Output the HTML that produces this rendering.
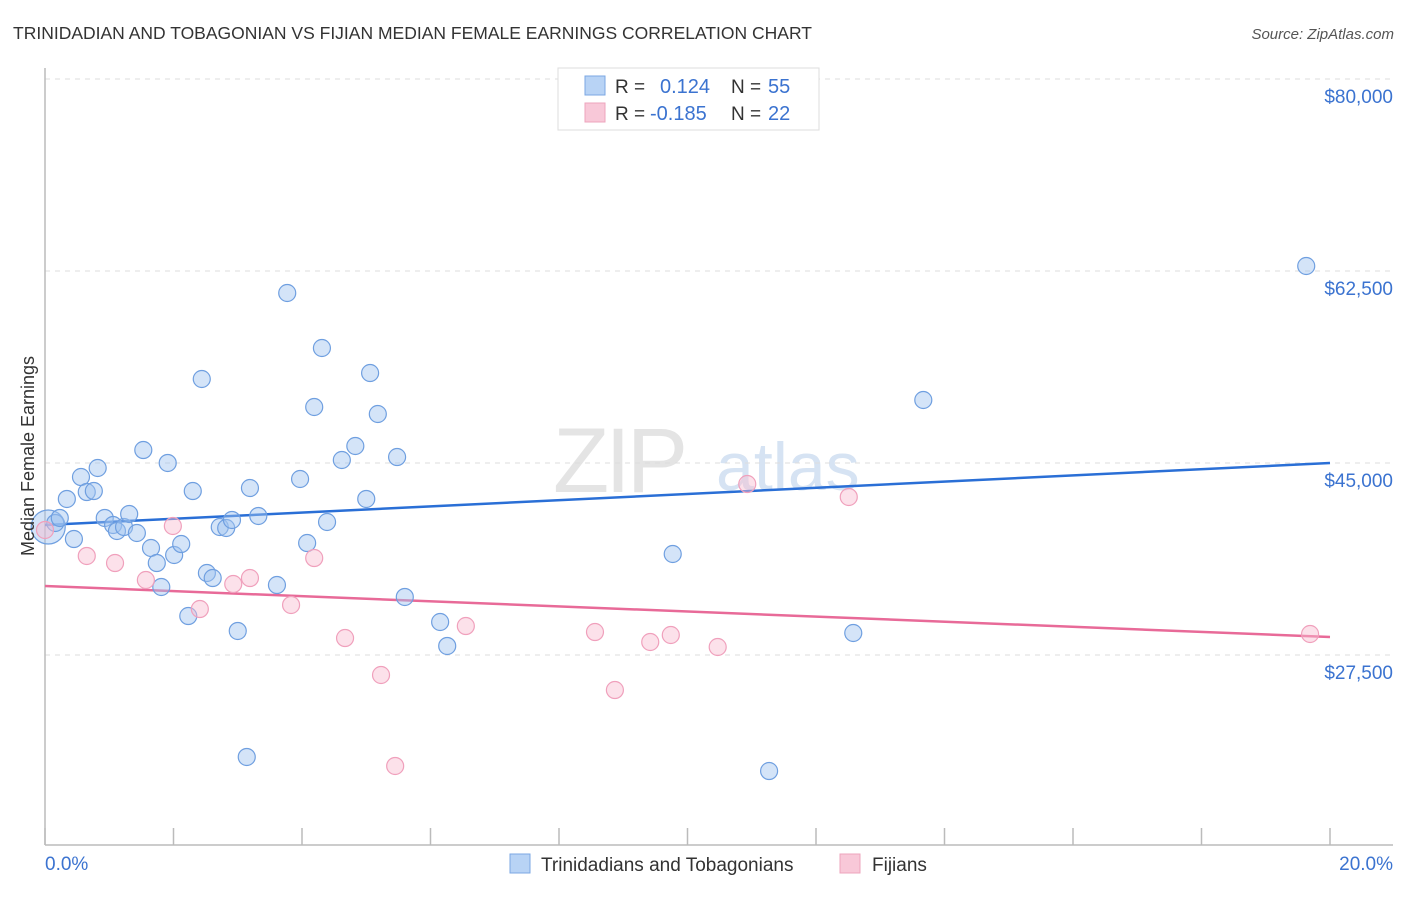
<!DOCTYPE html>
<html><head><meta charset="utf-8"><style>
body{margin:0;background:#fff;font-family:"Liberation Sans",sans-serif;}
svg text{font-family:"Liberation Sans",sans-serif;}
</style></head><body>
<svg id="chart" width="1406" height="892" xmlns="http://www.w3.org/2000/svg">
<text x="13" y="39" font-size="17.5" fill="#333">TRINIDADIAN AND TOBAGONIAN VS FIJIAN MEDIAN FEMALE EARNINGS CORRELATION CHART</text>
<text x="1394" y="39" font-size="15" fill="#555" text-anchor="end" font-style="italic">Source: ZipAtlas.com</text>
<g>
<text x="553" y="492" font-size="92" fill="#e4e4e4" font-family="Liberation Serif" letter-spacing="-4">ZIP</text>
<text x="716" y="490" font-size="68" fill="#d6e3f3">atlas</text>
</g>
<g id="grid"></g>
<g id="axes"></g>
<g id="lines"></g>
<g id="points"></g>
<text transform="translate(34,456) rotate(-90)" font-size="18" fill="#333" text-anchor="middle">Median Female Earnings</text>
<g>
<rect x="558" y="68" width="261" height="62" fill="#fff" stroke="#ddd"/>
<rect x="585" y="76" width="20" height="19" fill="#b8d3f5" stroke="#7ba7e3"/>
<rect x="585" y="103" width="20" height="19" fill="#f8c8d8" stroke="#eea4bd"/>
<text x="615" y="93" font-size="19" fill="#333">R =</text>
<text x="660" y="93" font-size="20" fill="#3b73d0">0.124</text>
<text x="731" y="93" font-size="19" fill="#333">N =</text>
<text x="768" y="93" font-size="20" fill="#3b73d0">55</text>
<text x="615" y="120" font-size="19" fill="#333">R =</text>
<text x="650" y="120" font-size="20" fill="#3b73d0">-0.185</text>
<text x="731" y="120" font-size="19" fill="#333">N =</text>
<text x="768" y="120" font-size="20" fill="#3b73d0">22</text>
</g>
<g>
<rect x="510" y="854" width="20" height="19" fill="#b8d3f5" stroke="#7ba7e3"/>
<text x="541" y="871" font-size="19" fill="#333">Trinidadians and Tobagonians</text>
<rect x="840" y="854" width="20" height="19" fill="#f8c8d8" stroke="#eea4bd"/>
<text x="872" y="871" font-size="19" fill="#333">Fijians</text>
</g>
</svg>
<script>
const yTickValues=[27500,45000,62500,80000];
const yTickLabels=["$27,500","$45,000","$62,500","$80,000"];
const xTickValues=[0,2,4,6,8,10,12,14,16,18,20];
const xEndLabels=["0.0%","20.0%"];
const blueX=[0.05,0.16,0.23,0.34,0.45,0.56,0.65,0.76,0.82,0.93,1.06,1.12,1.23,1.31,1.43,1.53,1.65,1.74,1.81,1.91,2.01,2.12,2.23,2.30,2.44,2.52,2.61,2.72,2.82,2.91,3.00,3.14,3.19,3.32,3.61,3.77,3.97,4.08,4.19,4.31,4.39,4.62,4.83,5.00,5.06,5.18,5.48,5.60,6.15,6.26,9.77,11.27,12.58,13.67,19.63];
const blueY=[39165,39530,39986,41718,38071,43722,42355,42446,44543,39986,39348,38801,39165,40350,38618,46183,37251,35883,33696,45000,36613,37615,31052,42446,52655,34972,34516,39165,39074,39804,29686,18201,42720,40168,33878,60494,43540,37706,50103,55481,39621,45272,46548,41718,53202,49465,45545,32785,30506,28319,36704,16923,29503,50741,62955];
const pinkX=[0.0,0.65,1.09,1.57,1.99,2.41,2.93,3.19,3.83,4.19,4.67,5.23,5.45,6.55,8.56,8.87,9.42,9.74,10.47,10.93,12.51,19.69];
const pinkY=[38892,36522,35883,34334,39256,31690,33969,34516,32056,36339,29047,25675,17381,30141,29594,24307,28683,29321,28227,43084,41900,29412];
const blueTrend=[39348,44999];
const pinkTrend=[33787,29138];
const trendX=[0,20];

const X0=45,X1=1330,YV0=80000,YP0=79,PXPER=10.971/1000;
const sx=v=>X0+(v/20)*(X1-X0);
const sy=v=>YP0+(YV0-v)*PXPER;
const NS="http://www.w3.org/2000/svg";
function mk(tag,attrs,parent){const e=document.createElementNS(NS,tag);for(const k in attrs)e.setAttribute(k,attrs[k]);document.getElementById(parent).appendChild(e);return e;}

yTickValues.forEach((v,i)=>{
  const g=mk('line',{x1:45,x2:1393,y1:sy(v),y2:sy(v),stroke:'#ddd','stroke-dasharray':'5,5'},'grid');
  
  
  const t=mk('text',{x:1393,y:sy(v)+24,'font-size':19,fill:'#3b73d0','text-anchor':'end'},'axes');
  t.textContent=yTickLabels[i];
  
  
});
const la=mk('line',{x1:45,x2:45,y1:68,y2:845,stroke:'#bbb','stroke-width':1.5},'axes');


const lb=mk('line',{x1:45,x2:1393,y1:845,y2:845,stroke:'#bbb','stroke-width':1.5},'axes');


xTickValues.forEach(v=>{
  const t=mk('line',{x1:sx(v),x2:sx(v),y1:828,y2:845,stroke:'#bbb','stroke-width':1.5},'axes');
  
  
});
const xl0=mk('text',{x:45,y:870,'font-size':19,fill:'#3b73d0'},'axes');
xl0.textContent=xEndLabels[0];


const xl1=mk('text',{x:1393,y:870,'font-size':19,fill:'#3b73d0','text-anchor':'end'},'axes');
xl1.textContent=xEndLabels[1];



blueX.forEach((x,i)=>{
  const c=mk('circle',{cx:sx(x),cy:sy(blueY[i]),r:i===0?17:8.5,fill:'rgba(160,196,240,0.45)',stroke:'#6f9fe0','stroke-width':1.2},'points');
  
  
});
pinkX.forEach((x,i)=>{
  const c=mk('circle',{cx:sx(x),cy:sy(pinkY[i]),r:8.5,fill:'rgba(248,188,208,0.45)',stroke:'#f0a0bc','stroke-width':1.2},'points');
  
  
});
const bl=mk('line',{x1:sx(trendX[0]),x2:sx(trendX[1]),y1:sy(blueTrend[0]),y2:sy(blueTrend[1]),stroke:'#2a6fd6','stroke-width':2.5},'lines');


const pl=mk('line',{x1:sx(trendX[0]),x2:sx(trendX[1]),y1:sy(pinkTrend[0]),y2:sy(pinkTrend[1]),stroke:'#e86a98','stroke-width':2.5},'lines');


</script>
</body></html>
